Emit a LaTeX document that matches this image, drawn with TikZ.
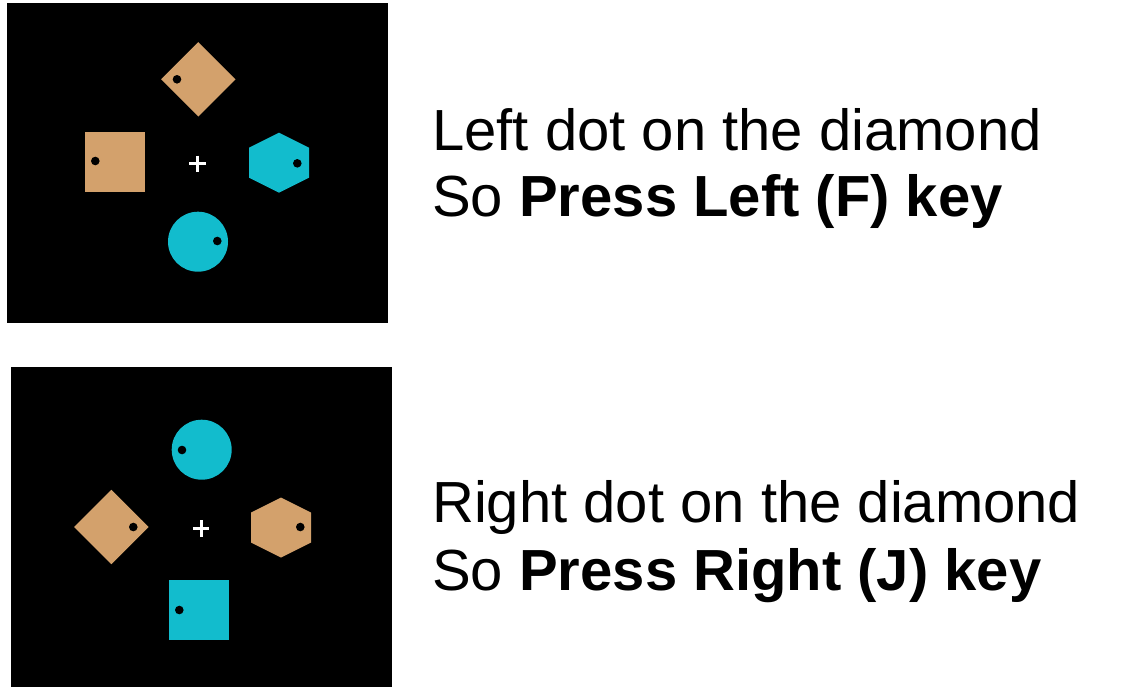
\documentclass[tikz,border=0pt]{standalone}
\usepackage{fontspec}
\setmainfont{Liberation Sans}
\usetikzlibrary{shapes.geometric,positioning}
\definecolor{stimtan}{RGB}{211,161,108}
\definecolor{stimcyan}{RGB}{18,188,205}

\begin{document}
\begin{tikzpicture}
        [x=1pt, y=-1pt,
          screen/.style={fill=black},
          sqr/.style={rectangle, minimum size=60pt, inner sep=0pt},
          dmd/.style={diamond, minimum size=74.6pt, inner sep=0pt},
          disc/.style={circle, minimum size=60pt, inner sep=0pt},
          pin/.style={circle, fill=black, minimum size=8.6pt, inner sep=0pt},
          fixation/.style={white, line width=3pt},
          caption/.style={anchor=base west, inner sep=0pt,
            font=\fontsize{58}{66}\selectfont}]
        \useasboundingbox (0,0) rectangle (1129,689);

        % left dot trial
        \fill[screen] (7,3) rectangle (388,323);
        \node[dmd,fill=stimtan] (dmdA) at (198.3,79.3) {};
        \node[pin] (pinA1) at (177,79.3) {};
        \node[sqr,fill=stimtan] (sqrA) at (115,161.7) {};
        \node[pin] (pinA2) at (95.3,161) {};
        \coordinate (hexA) at (279,162.7);
        \fill[stimcyan] (hexA) ++(0,-30) -- ++(30,15) -- ++(0,30) -- ++(-30,15)
          -- ++(-30,-15) -- ++(0,-30) -- cycle;
        \node[pin] (pinA3) at (297.3,163.3) {};
        \node[disc,fill=stimcyan] (discA) at (198,241.7) {};
        \node[pin] (pinA4) at (217.3,241) {};
        \coordinate (fixA) at (197.5,163.8);
        \draw[fixation] (fixA) ++(-8.2,0) -- ++(16.4,0);
        \draw[fixation] (fixA) ++(0,-8.2) -- ++(0,16.4);

        \node[caption] (capA1) at (432,150) {Left dot on the diamond};
        \node[caption] (capA2) at (432,216) {So \textbf{Press Left (F) key}};

        % right dot trial
        \fill[screen] (11,367) rectangle (392,687);
        \node[disc,fill=stimcyan] (discB) at (201.7,449.7) {};
        \node[pin] (pinB1) at (182,450) {};
        \node[dmd,fill=stimtan] (dmdB) at (111.3,527) {};
        \node[pin] (pinB2) at (133.3,527) {};
        \coordinate (hexB) at (281,527.5);
        \fill[stimtan] (hexB) ++(0,-30) -- ++(30,15) -- ++(0,30) -- ++(-30,15)
          -- ++(-30,-15) -- ++(0,-30) -- cycle;
        \node[pin] (pinB3) at (300.3,527) {};
        \node[sqr,fill=stimcyan] (sqrB) at (199,609.7) {};
        \node[pin] (pinB4) at (179.3,610) {};
        \coordinate (fixB) at (201,528.3);
        \draw[fixation] (fixB) ++(-8.2,0) -- ++(16.4,0);
        \draw[fixation] (fixB) ++(0,-8.2) -- ++(0,16.4);

        \node[caption] (capB1) at (432,522) {Right dot on the diamond};
        \node[caption] (capB2) at (432,590) {So \textbf{Press Right (J) key}};
\end{tikzpicture}
\end{document}
